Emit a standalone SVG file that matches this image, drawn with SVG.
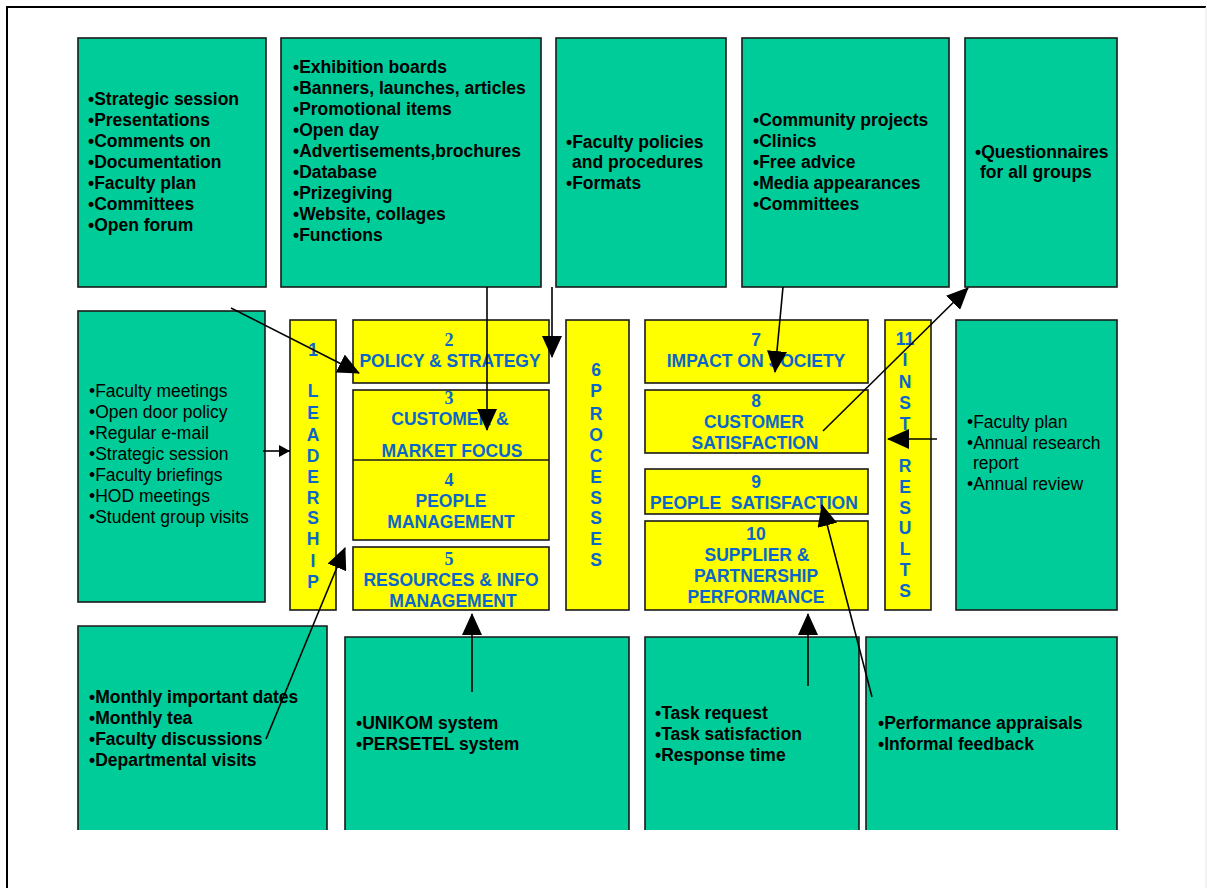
<svg xmlns="http://www.w3.org/2000/svg" width="1207" height="888" viewBox="0 0 1207 888">
  <style>
    .green { fill: #00CC99; stroke: #1a1a1a; stroke-width: 1.6; }
    .gedge { fill: none; stroke: #1a1a1a; stroke-width: 1.6; }
    .yellow { fill: #FFFF00; stroke: #1a1a1a; stroke-width: 1.6; }
    .t { font-family: "Liberation Sans", Arial, sans-serif; font-size: 17.5px; fill: #000; }
    .b { font-weight: bold; }
    .y { font-family: "Liberation Sans", Arial, sans-serif; font-size: 17.5px; font-weight: bold; fill: #0a66cc; text-anchor: middle; white-space: pre; }
    .n { font-family: "Liberation Serif", "Times New Roman", serif; font-size: 18px; font-weight: bold; fill: #0a66cc; text-anchor: middle; }
    .line { stroke: #000; stroke-width: 1.6; fill: none; }
  </style>
  <defs>
    <marker id="big" markerUnits="userSpaceOnUse" markerWidth="22" markerHeight="20" refX="21" refY="10" orient="auto">
      <path d="M0,0 L22,10 L0,20 z" fill="#000"/>
    </marker>
    <marker id="small" markerUnits="userSpaceOnUse" markerWidth="11" markerHeight="12" refX="11" refY="6" orient="auto">
      <path d="M0,0 L11,6 L0,12 z" fill="#000"/>
    </marker>
  </defs>

  <rect width="1207" height="888" fill="#fff"/>
  <!-- page frame -->
  <path d="M7,888 V7 H1206" fill="none" stroke="#000" stroke-width="2"/>
  <path d="M1206,7 V888" fill="none" stroke="#e6e6e6" stroke-width="1"/>

  <!-- top row: enablers' activities -->
  <g id="top-leadership-activities">
    <rect class="green" x="78" y="38" width="188" height="249"/>
    <text class="t b" x="88"><tspan x="88" y="105">•Strategic session</tspan><tspan x="88" y="126">•Presentations</tspan><tspan x="88" y="147">•Comments on</tspan><tspan x="88" y="168">•Documentation</tspan><tspan x="88" y="189">•Faculty plan</tspan><tspan x="88" y="210">•Committees</tspan><tspan x="88" y="231">•Open forum</tspan></text>
  </g>
  <g id="top-promotion">
    <rect class="green" x="281" y="38" width="260" height="249"/>
    <text class="t b"><tspan x="293" y="73">•Exhibition boards</tspan><tspan x="293" y="94">•Banners, launches, articles</tspan><tspan x="293" y="115">•Promotional items</tspan><tspan x="293" y="136">•Open day</tspan><tspan x="293" y="157">•Advertisements,brochures</tspan><tspan x="293" y="178">•Database</tspan><tspan x="293" y="199">•Prizegiving</tspan><tspan x="293" y="220">•Website, collages</tspan><tspan x="293" y="241">•Functions</tspan></text>
  </g>
  <g id="top-policies">
    <rect class="green" x="556" y="38" width="170" height="249"/>
    <text class="t b"><tspan x="566" y="148">•Faculty policies</tspan><tspan x="572" y="168">and procedures</tspan><tspan x="566" y="189">•Formats</tspan></text>
  </g>
  <g id="top-community">
    <rect class="green" x="742" y="38" width="207" height="249"/>
    <text class="t b"><tspan x="753" y="126">•Community projects</tspan><tspan x="753" y="147">•Clinics</tspan><tspan x="753" y="168">•Free advice</tspan><tspan x="753" y="189">•Media appearances</tspan><tspan x="753" y="210">•Committees</tspan></text>
  </g>
  <g id="top-questionnaires">
    <rect class="green" x="965" y="38" width="152" height="249"/>
    <text class="t b"><tspan x="975" y="158">•Questionnaires</tspan><tspan x="980" y="178">for all groups</tspan></text>
  </g>

  <!-- middle row: communication channels -->
  <g id="mid-communication">
    <rect class="green" x="78" y="311" width="187" height="291"/>
    <text class="t"><tspan x="89" y="397">•Faculty meetings</tspan><tspan x="89" y="418">•Open door policy</tspan><tspan x="89" y="439">•Regular e-mail</tspan><tspan x="89" y="460">•Strategic session</tspan><tspan x="89" y="481">•Faculty briefings</tspan><tspan x="89" y="502">•HOD meetings</tspan><tspan x="89" y="523">•Student group visits</tspan></text>
  </g>

  <!-- excellence model criteria -->
  <g id="c1-leadership">
    <rect class="yellow" x="290" y="320" width="46" height="290"/>
    <text class="y"><tspan x="313" y="356">1</tspan><tspan x="313" y="397">L</tspan><tspan x="313" y="419">E</tspan><tspan x="313" y="441">A</tspan><tspan x="313" y="462">D</tspan><tspan x="313" y="483">E</tspan><tspan x="313" y="504">R</tspan><tspan x="313" y="524">S</tspan><tspan x="313" y="545">H</tspan><tspan x="313" y="567">I</tspan><tspan x="313" y="588">P</tspan></text>
  </g>
  <g id="c2-policy">
    <rect class="yellow" x="353" y="320" width="196" height="63"/>
    <text class="n" x="449" y="346">2</text>
    <text class="y" x="450" y="367">POLICY &amp; STRATEGY</text>
  </g>
  <g id="c3-c4-customer-people">
    <rect class="yellow" x="353" y="390" width="196" height="150"/>
    <line x1="353" y1="460" x2="549" y2="460" stroke="#1a1a1a" stroke-width="1.6"/>
    <text class="n" x="449" y="404">3</text>
    <text class="y" x="450" y="425">CUSTOMER &amp;</text>
    <text class="y" x="452" y="457">MARKET FOCUS</text>
    <text class="n" x="449" y="486">4</text>
    <text class="y" x="451" y="507">PEOPLE</text>
    <text class="y" x="451" y="528">MANAGEMENT</text>
  </g>
  <g id="c5-resources">
    <rect class="yellow" x="353" y="547" width="196" height="63"/>
    <text class="n" x="449" y="565">5</text>
    <text class="y" x="451" y="586">RESOURCES &amp; INFO</text>
    <text class="y" x="453" y="607">MANAGEMENT</text>
  </g>
  <g id="c6-processes">
    <rect class="yellow" x="566" y="320" width="63" height="290"/>
    <text class="y"><tspan x="596" y="376">6</tspan><tspan x="596" y="397">P</tspan><tspan x="596" y="420">R</tspan><tspan x="596" y="441">O</tspan><tspan x="596" y="462">C</tspan><tspan x="596" y="483">E</tspan><tspan x="596" y="504">S</tspan><tspan x="596" y="524">S</tspan><tspan x="596" y="545">E</tspan><tspan x="596" y="566">S</tspan></text>
  </g>
  <g id="c7-society">
    <rect class="yellow" x="645" y="320" width="223" height="63"/>
    <text class="y" x="756" y="346">7</text>
    <text class="y" x="756" y="367">IMPACT ON SOCIETY</text>
  </g>
  <g id="c8-customer-satisfaction">
    <rect class="yellow" x="645" y="390" width="223" height="63"/>
    <text class="y" x="756" y="407">8</text>
    <text class="y" x="754" y="428">CUSTOMER</text>
    <text class="y" x="755" y="449">SATISFACTION</text>
  </g>
  <g id="c9-people-satisfaction">
    <rect class="yellow" x="645" y="469" width="223" height="45"/>
    <text class="y" x="756" y="488">9</text>
    <text class="y" x="754" y="509">PEOPLE  SATISFACTION</text>
  </g>
  <g id="c10-supplier">
    <rect class="yellow" x="645" y="521" width="223" height="89"/>
    <text class="y" x="756" y="540">10</text>
    <text class="y" x="757" y="561">SUPPLIER &amp;</text>
    <text class="y" x="756" y="582">PARTNERSHIP</text>
    <text class="y" x="756" y="603">PERFORMANCE</text>
  </g>
  <g id="c11-results">
    <rect class="yellow" x="885" y="320" width="46" height="290"/>
    <text class="y"><tspan x="905" y="345">11</tspan><tspan x="905" y="366">I</tspan><tspan x="905" y="388">N</tspan><tspan x="905" y="409">S</tspan><tspan x="905" y="430">T</tspan><tspan x="905" y="472">R</tspan><tspan x="905" y="493">E</tspan><tspan x="905" y="514">S</tspan><tspan x="905" y="534">U</tspan><tspan x="905" y="555">L</tspan><tspan x="905" y="576">T</tspan><tspan x="905" y="597">S</tspan></text>
  </g>
  <g id="mid-reports">
    <rect class="green" x="956" y="320" width="161" height="290"/>
    <text class="t"><tspan x="967" y="428">•Faculty plan</tspan><tspan x="967" y="449">•Annual research</tspan><tspan x="973" y="469">report</tspan><tspan x="967" y="490">•Annual review</tspan></text>
  </g>

  <!-- bottom row: feedback sources -->
  <g id="bottom-staff-events">
    <rect x="78" y="626" width="249" height="204" fill="#00CC99"/>
    <path class="gedge" d="M78,830 V626 H327 V830"/>
    <text class="t b"><tspan x="89" y="703">•Monthly important dates</tspan><tspan x="89" y="724">•Monthly tea</tspan><tspan x="89" y="745">•Faculty discussions</tspan><tspan x="89" y="766">•Departmental visits</tspan></text>
  </g>
  <g id="bottom-systems">
    <rect x="345" y="637" width="284" height="193" fill="#00CC99"/>
    <path class="gedge" d="M345,830 V637 H629 V830"/>
    <text class="t b"><tspan x="356" y="729">•UNIKOM system</tspan><tspan x="356" y="750">•PERSETEL system</tspan></text>
  </g>
  <g id="bottom-tasks">
    <rect x="645" y="637" width="214" height="193" fill="#00CC99"/>
    <path class="gedge" d="M645,830 V637 H859 V830"/>
    <text class="t b"><tspan x="655" y="719">•Task request</tspan><tspan x="655" y="740">•Task satisfaction</tspan><tspan x="655" y="761">•Response time</tspan></text>
  </g>
  <g id="bottom-appraisals">
    <rect x="866" y="637" width="251" height="193" fill="#00CC99"/>
    <path class="gedge" d="M866,830 V637 H1117 V830"/>
    <text class="t b"><tspan x="878" y="729">•Performance appraisals</tspan><tspan x="878" y="750">•Informal feedback</tspan></text>
  </g>

  <!-- connectors -->
  <g id="connectors">
    <line class="line" x1="231" y1="308" x2="359" y2="373" marker-end="url(#big)"/>
    <line class="line" x1="487" y1="287" x2="487" y2="430" marker-end="url(#big)"/>
    <line class="line" x1="552" y1="287" x2="552" y2="357" marker-end="url(#big)"/>
    <line class="line" x1="263" y1="451" x2="290" y2="451" marker-end="url(#small)"/>
    <line class="line" x1="266" y1="739" x2="345" y2="548" marker-end="url(#big)"/>
    <line class="line" x1="472" y1="692" x2="472" y2="614" marker-end="url(#big)"/>
    <line class="line" x1="808" y1="686" x2="808" y2="614" marker-end="url(#big)"/>
    <line class="line" x1="872" y1="697" x2="822" y2="505" marker-end="url(#big)"/>
    <line class="line" x1="783" y1="287" x2="775" y2="372" marker-end="url(#big)"/>
    <line class="line" x1="823" y1="431" x2="968" y2="288" marker-end="url(#big)"/>
    <line class="line" x1="937" y1="439" x2="888" y2="439" marker-end="url(#big)"/>
  </g>
</svg>
